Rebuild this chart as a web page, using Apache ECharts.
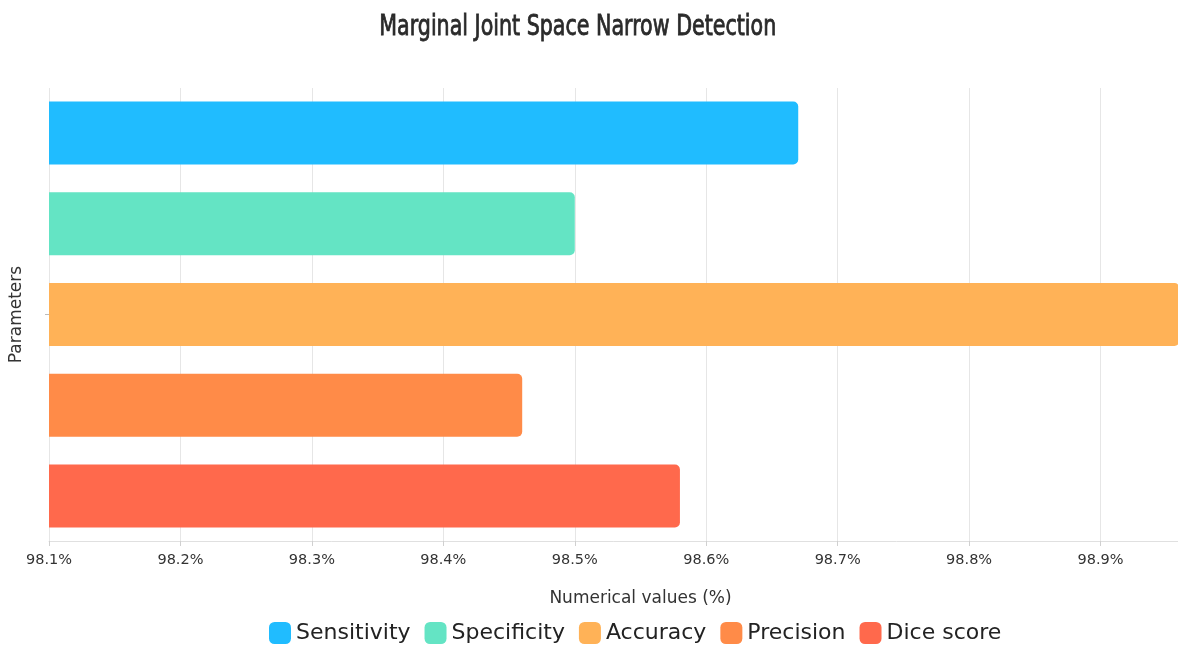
<!DOCTYPE html>
<html>
<head>
<meta charset="utf-8">
<script src="https://cdn.jsdelivr.net/npm/echarts@6/dist/echarts.min.js"></script>
<style>
  html, body { margin: 0; padding: 0; background: #fff; }
  #panel { width: 1178px; height: 646px; }
</style>
</head>
<body>
<div id="panel"></div>
<script>
var seriesNames = ['Sensitivity', 'Specificity', 'Accuracy', 'Precision', 'Dice score'];
var seriesValues = [98.67, 98.5, 98.96, 98.46, 98.58];
var colors = ['#20bcff', '#64e4c4', '#ffb257', '#ff8b48', '#ff694c'];
var categories = [''];
var xTicks = { min: 98.1, max: 99, interval: 0.1 };
var titleText = 'Marginal Joint Space Narrow Detection';

var font = "'DejaVu Sans', sans-serif";

var series = seriesNames.map(function (name, i) {
    return {
        name: name,
        type: 'bar',
        barWidth: 63,
        barGap: '44%',
        itemStyle: { color: colors[i], borderRadius: [0, 5, 5, 0] },
        data: [seriesValues[i]]
    };
});

var options = {
    backgroundColor: '#fff',
    animation: false,
    // condensed title, squeezed horizontally to match the narrow display face
    graphic: [{
        type: 'text',
        left: 379,
        top: 13,
        scaleX: 0.79,
        style: {
            text: titleText,
            fontFamily: "'Liberation Sans Narrow', 'DejaVu Sans Condensed', sans-serif",
            fontSize: 29,
            fontWeight: 'normal',
            fill: '#2a2a2a',
            stroke: '#2a2a2a',
            lineWidth: 0.8
        }
    }],
    legend: {
        left: 264,
        top: 617,
        itemWidth: 22,
        itemHeight: 22,
        itemGap: 14,
        icon: 'roundRect',
        textStyle: { fontFamily: font, fontSize: 22, color: '#222' },
        data: seriesNames
    },
    grid: { left: 49, top: 88, width: 1183, height: 453, outerBoundsMode: 'none', containLabel: false },
    xAxis: {
        type: 'value',
        min: xTicks.min,
        max: xTicks.max,
        interval: xTicks.interval,
        name: 'Numerical values (%)',
        nameLocation: 'middle',
        nameGap: 49,
        nameTextStyle: { fontFamily: font, fontSize: 17, color: '#333' },
        axisLine: { show: true, lineStyle: { color: '#e0e0e0' } },
        axisTick: { show: true, length: 5, lineStyle: { color: '#d0d0d0' } },
        axisLabel: {
            fontFamily: font, fontSize: 14.5, color: '#333', margin: 12,
            formatter: function (v) { return v.toFixed(1) + '%'; }
        },
        splitLine: { show: true, lineStyle: { color: '#e6e6e6' } }
    },
    yAxis: {
        type: 'category',
        inverse: true,
        data: categories,
        name: 'Parameters',
        nameLocation: 'middle',
        nameRotate: 90,
        nameGap: 24,
        nameTextStyle: { fontFamily: font, fontSize: 17, color: '#333' },
        axisLine: { show: false },
        axisTick: { show: true, alignWithLabel: true, length: 4, lineStyle: { color: '#bbb' } },
        axisLabel: { show: false }
    },
    series: series
};

var myChart = echarts.init(document.getElementById('panel'));
myChart.setOption(options);
</script>
</body>
</html>
